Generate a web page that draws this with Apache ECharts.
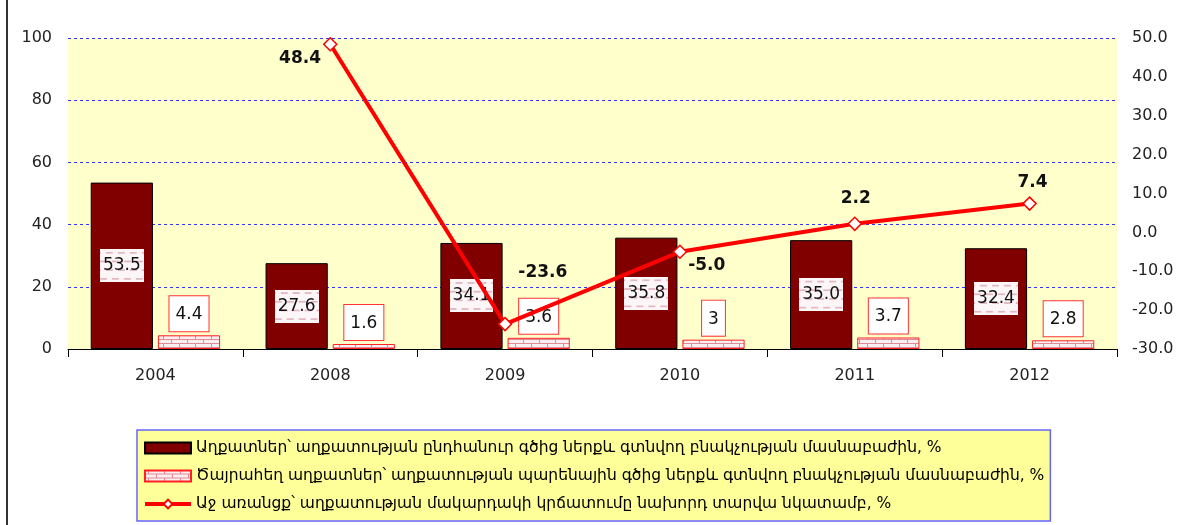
<!DOCTYPE html>
<html><head><meta charset="utf-8">
<script src="https://cdn.jsdelivr.net/npm/echarts@6/dist/echarts.min.js"></script>
<style>html,body{margin:0;padding:0;background:#fff}#c{width:1185px;height:525px}</style>
</head><body><div id="c"></div>
<script>
const categories = ['2004','2008','2009','2010','2011','2012'];
const poorShare = [53.5, 27.6, 34.1, 35.8, 35.0, 32.4];
const extremePoorShare = [4.4, 1.6, 3.6, 3, 3.7, 2.8];
const povertyChange = [null, 48.4, -23.6, -5.0, 2.2, 7.4];
const leftTicks = {min: 0, max: 100, interval: 20};
const rightTicks = {min: -30, max: 50, interval: 10};
const names = [
  'Աղքատներ՝ աղքատության ընդհանուր գծից ներքև գտնվող բնակչության մասնաբաժին, %',
  'Ծայրահեղ աղքատներ՝ աղքատության պարենային գծից ներքև գտնվող բնակչության մասնաբաժին, %',
  'Աջ առանցք՝ աղքատության մակարդակի կրճատումը նախորդ տարվա նկատամբ, %'
];
const lineLabelPos = [null, {position:'left', offset:[3, 14]}, {position:'right', offset:[1, -52]}, {position:'right', offset:[-4, 14]}, {position:'top', offset:[1, -4]}, {position:'top', offset:[3, 0]}];

function brick(){
  const c = document.createElement('canvas'); c.width = 16; c.height = 8;
  const g = c.getContext('2d');
  g.fillStyle = '#fbeef0'; g.fillRect(0,0,16,8);
  g.strokeStyle = '#e08a98'; g.lineWidth = 1;
  g.beginPath(); g.moveTo(0,3.5); g.lineTo(16,3.5); g.moveTo(0,7.5); g.lineTo(16,7.5);
  g.moveTo(3.5,0); g.lineTo(3.5,3.5); g.moveTo(11.5,4); g.lineTo(11.5,8); g.stroke();
  return c;
}
function dashBg(){
  const c = document.createElement('canvas'); c.width = 44; c.height = 38;
  const g = c.getContext('2d');
  g.fillStyle = '#fdf6f8'; g.fillRect(0,0,44,38);
  g.strokeStyle = '#d9a3ae'; g.lineWidth = 1.5;
  for (let r = 0; r < 4; r++) {
    const y = 4 + r*10; const off = (r%2)*6;
    for (let x = -6+off; x < 44; x += 12) { g.beginPath(); g.moveTo(x, y); g.lineTo(x+7, y); g.stroke(); }
  }
  return c;
}
const brickImg = brick();
const dashImg = dashBg();
const font = '"DejaVu Sans", "Noto Sans", sans-serif';

const chart = echarts.init(document.getElementById('c'));
chart.setOption({
  animation: false,
  textStyle: {fontFamily: font},
  graphic: [{type:'line', shape:{x1:7,y1:0,x2:7,y2:525}, style:{stroke:'#333', lineWidth:2}}],
  grid: {left: 68, right: 68, top: 38, bottom: 176, show: true, backgroundColor: '#ffffcc', borderWidth: 0},
  legend: {
    orient: 'vertical', left: 137, top: 430, itemGap: 10,
    backgroundColor: '#ffff99', borderColor: '#6666ff', borderWidth: 1.5, borderRadius: 0,
    padding: [9, 6, 8, 6], itemWidth: 46, itemHeight: 11,
    textStyle: {fontSize: 15.5, lineHeight: 18, color: '#000', fontFamily: font},
    data: [
      {name: names[0], icon: 'rect'},
      {name: names[1], icon: 'rect'},
      {name: names[2], lineStyle: {width: 4, color: '#ff0000'}}
    ]
  },
  xAxis: {
    type: 'category', data: categories,
    axisLine: {lineStyle: {color: '#000', width: 1}},
    axisTick: {show: true, length: 8, lineStyle: {color: '#000'}},
    axisLabel: {fontSize: 16, color: '#222', margin: 19}
  },
  yAxis: [
    {type: 'value', min: leftTicks.min, max: leftTicks.max, interval: leftTicks.interval,
     axisLine: {show: false}, axisTick: {show: false},
     axisLabel: {fontSize: 16, color: '#222', margin: 16},
     splitLine: {lineStyle: {color: '#3333ff', type: [3, 3], width: 1}}},
    {type: 'value', min: rightTicks.min, max: rightTicks.max, interval: rightTicks.interval,
     alignTicks: false,
     axisLine: {show: false}, axisTick: {show: false}, splitLine: {show: false},
     axisLabel: {fontSize: 16, color: '#222', margin: 15, formatter: v => v.toFixed(1)}}
  ],
  series: [
    {name: names[0], type: 'bar', data: poorShare, barGap: '8%', barCategoryGap: '26%',
     itemStyle: {color: '#800000', borderColor: '#000', borderWidth: 1},
     label: {show: true, position: 'inside', fontSize: 17, color: '#111',
       formatter: p => p.value.toFixed(1),
       backgroundColor: {image: dashImg}, padding: [9, 3, 7, 3]}},
    {name: names[1], type: 'bar', data: extremePoorShare,
     itemStyle: {color: {image: brickImg, repeat: 'repeat'}, borderColor: '#ff2020', borderWidth: 1},
     label: {show: true, position: 'top', distance: 4, fontSize: 17, color: '#111',
       backgroundColor: '#fff', borderColor: '#ff3333', borderWidth: 1, padding: [10, 6, 8, 6]}},
    {name: names[2], type: 'line', yAxisIndex: 1, z: 3,
     data: povertyChange.map((v, i) => v === null ? null : {value: v, label: lineLabelPos[i]}),
     lineStyle: {color: '#ff0000', width: 4},
     itemStyle: {color: '#fff', borderColor: '#ff0000', borderWidth: 1.5},
     symbol: 'diamond', symbolSize: 13, showAllSymbol: true,
     label: {show: true, fontSize: 17, fontWeight: 'bold', color: '#111',
       formatter: p => p.value.toFixed(1)}}
  ]
});
</script></body></html>
